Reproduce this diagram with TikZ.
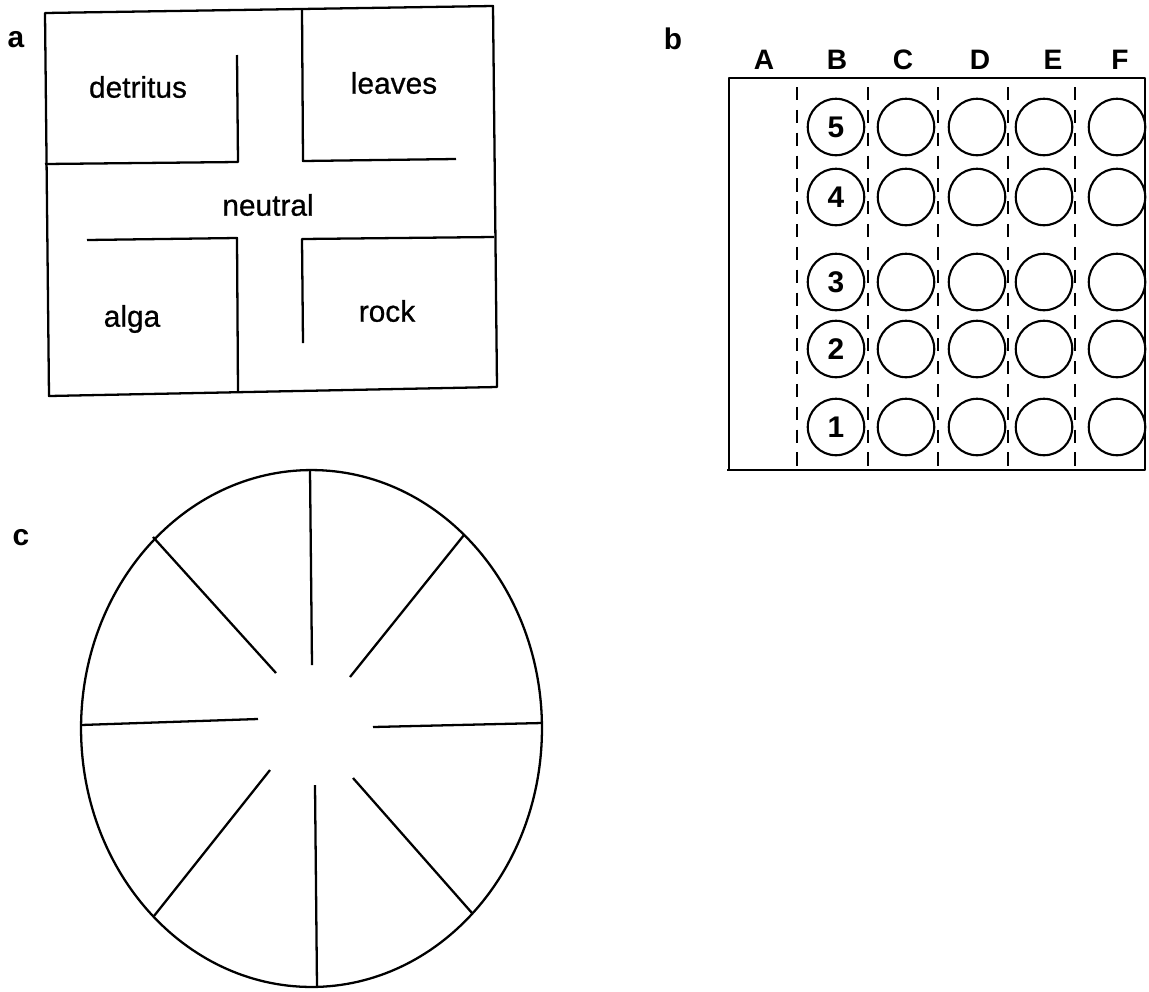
\documentclass[tikz,border=0pt]{standalone}
\usepackage{fontspec}
\setmainfont{Liberation Sans}
\newfontface\zonefont{Liberation Sans}[FakeBold=0.7]
\usetikzlibrary{positioning}

\begin{document}
\begin{tikzpicture}[x=0.02cm, y=-0.02cm,
    wall/.style={line width=1.3pt, line join=round},
    zone/.style={font=\zonefont\fontsize{17}{20}\selectfont},
    panel/.style={font=\bfseries\fontsize{17}{20}\selectfont},
    colhead/.style={font=\bfseries\fontsize{16}{18}\selectfont},
    well/.style={circle, draw, line width=1.2pt, minimum size=1.13cm, inner sep=0pt, font=\bfseries\fontsize{17}{18}\selectfont},
    lane/.style={line width=1.1pt, dash pattern=on 7.5pt off 5.5pt}]

    \useasboundingbox (0,0) rectangle (1149,991);

    % Panel labels
    \node[panel] (la) at (16,40) {a};
    \node[panel] (lb) at (673,39) {b};
    \node[panel] (lc) at (21,538) {c};

    % (a) Choice arena
    \draw[wall] (45,13) -- (493,6) -- (497,387) -- (49,396) -- cycle;
    \draw[wall] (45,164) -- (238,162) -- (237,55);
    \draw[wall] (302,9) -- (303,161) -- (456,159);
    \draw[wall] (87,240) -- (237,238) -- (238,392);
    \draw[wall] (303,343) -- (302,239) -- (494,237);
    \node[zone] (detritus) at (138,87) {detritus};
    \node[zone] (leaves) at (394,83) {leaves};
    \node[zone] (neutral) at (268,205) {neutral};
    \node[zone] (alga) at (132,319) {alga};
    \node[zone] (rock) at (387,311) {rock};

    % (b) Well plate
    \draw[wall] (729,78) rectangle (1145,470);
    \draw[wall] (727,470) -- (1145,470);
    \foreach \x in {797,868,938,1008,1075}
        \draw[lane] (\x,87) -- (\x,470);
    \foreach \c/\x in {A/764,B/837,C/903,D/980,E/1053,F/1120}
        \node[colhead] (col-\c) at (\x,60) {\c};
    \foreach \r/\y in {5/127,4/197,3/282,2/349,1/427} {
        \node[well] (w-B-\r) at (836,\y) {\r};
        \foreach \c/\x in {C/906,D/977,E/1044,F/1117}
            \node[well] (w-\c-\r) at (\x,\y) {};
    }

    % (c) Round arena
    \coordinate (hub) at (311.5,728.5);
    \draw[wall] (hub) ellipse [x radius=4.61cm, y radius=5.17cm];
    \foreach \xa/\ya/\xb/\yb in {312/665/310/470, 350/677/464/535, 373/727/542/723,
        353/778/472/913, 315/785/317/987, 270/770/154/916, 258/719/81/725, 276/673/153/537}
        \draw[wall] (\xa,\ya) -- (\xb,\yb);
\end{tikzpicture}
\end{document}
